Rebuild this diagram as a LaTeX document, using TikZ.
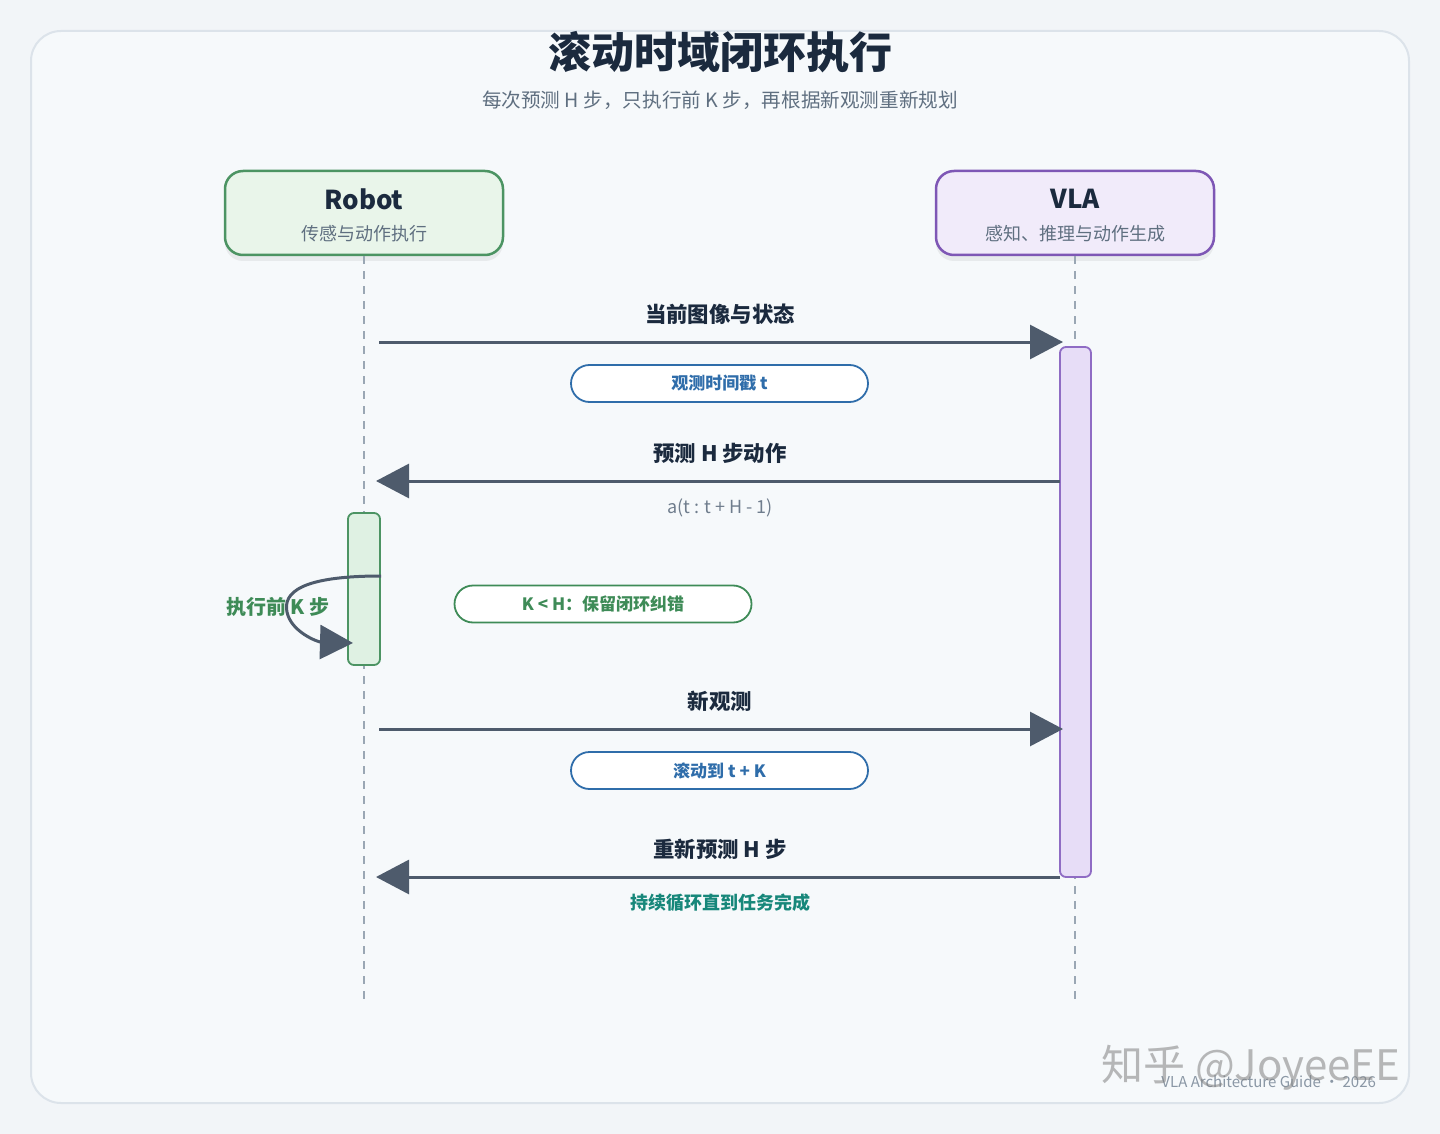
\documentclass[tikz,border=0pt]{standalone}
\usepackage{fontspec}
\setmainfont{Noto Sans CJK SC}
\usetikzlibrary{arrows.meta,shadows}
\definecolor{bgc}{HTML}{F2F5F8}
\definecolor{framefill}{HTML}{F6F9FB}
\definecolor{framedraw}{HTML}{DCE3EA}
\definecolor{titlec}{HTML}{1B2A3E}
\definecolor{subc}{HTML}{5F6F80}
\definecolor{robfill}{HTML}{E9F5EA}
\definecolor{robdraw}{HTML}{4C9463}
\definecolor{vlafill}{HTML}{F1EBFA}
\definecolor{vladraw}{HTML}{7E57B5}
\definecolor{lifec}{HTML}{9AA7B4}
\definecolor{arrc}{HTML}{4E5B6C}
\definecolor{bluec}{HTML}{2F6DAA}
\definecolor{greenc}{HTML}{3E8B57}
\definecolor{tealc}{HTML}{17877A}
\definecolor{vbarfill}{HTML}{E7DDF7}
\definecolor{vbardraw}{HTML}{8F6CC4}
\definecolor{rbarfill}{HTML}{DFF1E3}
\definecolor{footc}{HTML}{8A97A5}
\tikzset{
  actor/.style={draw, line width=1.25pt, rounded corners=9pt, minimum width=139pt, minimum height=42pt,
    drop shadow={opacity=0.12, shadow xshift=0pt, shadow yshift=-3pt}},
  lifeline/.style={draw=lifec, line width=1.1pt, dash pattern=on 4pt off 3.5pt},
  msg/.style={draw=arrc, line width=1.5pt, -{Triangle[length=16.5pt, width=17pt]}},
  msglabel/.style={font=\fontsize{10.7pt}{12pt}\selectfont\bfseries, text=titlec},
  notepill/.style={draw, line width=0.9pt, fill=white, rounded corners=9.25pt, minimum width=148.5pt, minimum height=18.5pt,
    font=\fontsize{8.5pt}{10pt}\selectfont\bfseries},
  bar/.style={draw, line width=0.9pt, rounded corners=3pt},
}
\begin{document}
\begin{tikzpicture}[x=0.5pt, y=-0.5pt]
\useasboundingbox (0,0) rectangle (1440,1134);
\fill[bgc] (0,0) rectangle (1440,1134);
\draw[draw=framedraw, fill=framefill, line width=1pt, rounded corners=15pt] (31,31) rectangle (1409,1103);

\node[font=\fontsize{21.5pt}{24pt}\selectfont\bfseries, text=titlec] (title) at (720,52) {滚动时域闭环执行};
\node[font=\fontsize{9.8pt}{11pt}\selectfont, text=subc] (subtitle) at (720,100) {每次预测 H 步，只执行前 K 步，再根据新观测重新规划};

% actors
\node[actor, draw=robdraw, fill=robfill] (robot) at (364,213) {};
\node[font=\fontsize{13pt}{15pt}\selectfont\bfseries, text=titlec] (robotname) at (364,199) {Robot};
\node[font=\fontsize{9pt}{11pt}\selectfont, text=subc] (robotdesc) at (364,234) {传感与动作执行};
\node[actor, draw=vladraw, fill=vlafill] (vla) at (1075,213) {};
\node[font=\fontsize{13pt}{15pt}\selectfont\bfseries, text=titlec] (vlaname) at (1075,199) {VLA};
\node[font=\fontsize{9pt}{11pt}\selectfont, text=subc] (vladesc) at (1075,234) {感知、推理与动作生成};

% lifelines
\coordinate (robotend) at (364,1000);
\coordinate (vlaend) at (1075,1000);
\draw[lifeline] (robot.south) -- (robotend);
\draw[lifeline] (vla.south) -- (vlaend);

% activation bars
\node[bar, draw=vbardraw, fill=vbarfill, minimum width=15.5pt, minimum height=265pt] (vlabar) at (1075.5,612) {};
\node[bar, draw=robdraw, fill=rbarfill, minimum width=16pt, minimum height=76pt] (robotbar) at (364,589) {};

% message 1
\coordinate (m1s) at (379,342);
\coordinate (m1e) at (1063,342);
\draw[msg] (m1s) -- (m1e);
\node[msglabel] (l1) at (720,314) {当前图像与状态};
\node[notepill, draw=bluec, text=bluec] (n1) at (719.5,383.5) {观测时间戳 t};

% message 2
\coordinate (m2s) at (1060,481);
\coordinate (m2e) at (376,481);
\draw[msg] (m2s) -- (m2e);
\node[msglabel] (l2) at (720,453) {预测 H 步动作};
\node[font=\fontsize{9pt}{11pt}\selectfont, text=subc!90] (f2) at (720,508) {a(t : t + H - 1)};

% self loop
\coordinate (ls) at (381,576);
\coordinate (le) at (353,643);
\draw[msg] (ls) .. controls (300,576) and (283,593) .. (287,612) .. controls (291,632) and (318,642) .. (le);
\node[font=\fontsize{10pt}{12pt}\selectfont\bfseries, text=greenc] (ll) at (278,607) {执行前 K 步};
\node[notepill, draw=greenc, text=greenc] (n2) at (603,604) {K < H：保留闭环纠错};

% message 3
\coordinate (m3s) at (379,729);
\coordinate (m3e) at (1063,729);
\draw[msg] (m3s) -- (m3e);
\node[msglabel] (l3) at (720,701) {新观测};
\node[notepill, draw=bluec, text=bluec] (n3) at (719.5,770.5) {滚动到 t + K};

% message 4
\coordinate (m4s) at (1060,877);
\coordinate (m4e) at (376,877);
\draw[msg] (m4s) -- (m4e);
\node[msglabel] (l4) at (720,849) {重新预测 H 步};
\node[font=\fontsize{9pt}{11pt}\selectfont\bfseries, text=tealc] (f4) at (720,903) {持续循环直到任务完成};

% footer and watermark
\node[anchor=east, font=\fontsize{7.5pt}{9pt}\selectfont, text=footc] (footer) at (1383,1082) {VLA Architecture Guide · 2026};
\node[font=\fontsize{21pt}{24pt}\selectfont, text=gray, opacity=0.55] (wm) at (1251,1068) {知乎 @JoyeeEE};
\end{tikzpicture}
\end{document}
